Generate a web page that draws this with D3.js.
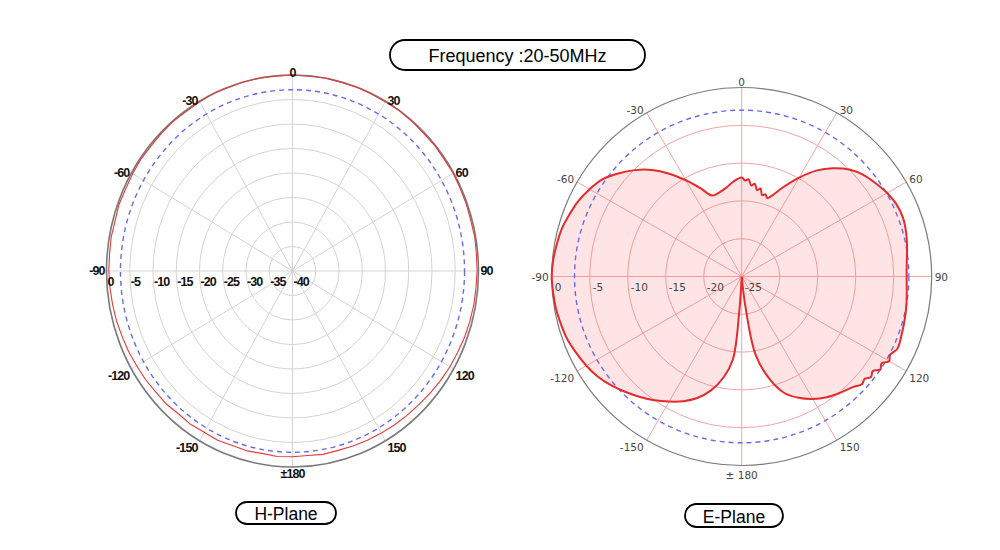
<!DOCTYPE html>
<html>
<head>
<meta charset="utf-8">
<script src="https://cdn.jsdelivr.net/npm/d3@7"></script>
<style>
  html, body { margin: 0; padding: 0; background: #fff; }
  svg { display: block; }
</style>
</head>
<body>
<svg id="chart" width="1000" height="550"></svg>
<script>
// ---------------- DATA ----------------
const titleText = "Frequency :20-50MHz";
const planeNames = ["H-Plane", "E-Plane"];

const angleTicks = [0, 30, 60, 90, 120, 150, 180, -150, -120, -90, -60, -30];
const angleTickLabels = ["0", "30", "60", "90", "120", "150", "\u00b1180", "-150", "-120", "-90", "-60", "-30"];
const eAngleTickLabels = ["0", "30", "60", "90", "120", "150", "\u00b1 180", "-150", "-120", "-90", "-60", "-30"];

const hRingTicks = [0, -5, -10, -15, -20, -25, -30, -35, -40];
const eRingTicks = [0, -5, -10, -15, -20, -25];

const hReference = -3;   // blue dashed circle (dB)
const eReference = -3;

const hAngles = [-180,-175,-170,-165,-160,-155,-150,-145,-140,-135,-130,-125,-120,-115,-110,-105,-100,-95,
  -90,-85,-80,-75,-70,-65,-60,-55,-50,-45,-40,-35,-30,-25,-20,-15,-10,-5,
  0,5,10,15,20,25,30,35,40,45,50,55,60,65,70,75,80,85,
  90,95,100,105,110,115,120,125,130,135,140,145,150,155,160,165,170,175];
const hGain = [-2.1,-2.0,-2.2,-2.0,-2.1,-1.9,-2.0,-1.8,-1.9,-1.6,-1.6,-1.4,-1.3,-1.1,-1.0,-0.8,-0.7,-0.6,
  -0.5,-0.5,-0.4,-0.5,-0.3,-0.4,-0.3,-0.2,-0.3,-0.2,-0.1,-0.2,-0.1,0,-0.1,0,0,-0.1,
  0,-0.1,0,-0.1,0,-0.1,-0.1,0,-0.1,-0.2,-0.1,-0.2,-0.1,-0.2,-0.2,-0.3,-0.2,-0.3,
  -0.3,-0.4,-0.4,-0.5,-0.6,-0.8,-0.9,-1.1,-1.3,-1.5,-1.6,-1.7,-1.8,-1.9,-2.0,-2.1,-2.0,-2.2];

const eAngles = [-180,-178,-176,-174,-170,-165,-160,-155,-150,-145,-140,-135,-130,-125,-120,-115,-110,-105,-100,-95,
  -90,-85,-80,-75,-70,-65,-60,-55,-50,-45,-40,-35,-30,-25,-20,-15,-10,-5,
  0,2,4,6,8,10,12,14,16,18,20,25,30,35,40,45,50,55,60,65,70,75,80,85,
  90,95,100,105,110,115,118,120,122,124,126,128,130,132,135,140,145,150,155,160,165,170,173,176];
const eGain = [-40,-30,-20,-14,-11.5,-9.4,-7.9,-6.8,-5.9,-5.0,-4.2,-3.4,-2.6,-1.9,-1.4,-1.0,-0.6,-0.4,-0.2,-0.1,
  0,-0.1,-0.3,-0.5,-0.9,-1.3,-1.9,-2.6,-3.8,-5.1,-6.6,-8.4,-10.3,-12.1,-13.6,-13.5,-13.1,-12.4,
  -11.9,-12.3,-12.1,-12.9,-12.6,-13.4,-13.1,-13.9,-13.7,-14.1,-13.7,-11.9,-9.9,-7.9,-6.3,-5.0,-4.1,-3.5,-2.9,-2.5,-2.4,-2.6,-2.9,-3.2,
  -3.3,-3.2,-3.0,-2.8,-2.6,-2.4,-2.9,-2.6,-3.3,-3.0,-3.7,-3.4,-3.9,-3.7,-4.3,-4.9,-5.5,-6.3,-7.3,-8.6,-11.0,-14.5,-21,-30];

// ---------------- DRAW ----------------
const svg = d3.select("#chart");
const rad = d => d * Math.PI / 180;

function makePlane(cfg) {
  const g = svg.append("g");
  const r = d3.scaleLinear().domain([cfg.min, 0]).range([0, 1]).clamp(true);
  const px = (a, n) => cfg.cx + n * cfg.rx * Math.sin(rad(a));
  const py = (a, n) => cfg.cy - n * cfg.ry * Math.cos(rad(a));

  // spokes
  g.selectAll(".spoke").data(d3.range(0, 360, 30)).join("line")
    .attr("x1", cfg.cx).attr("y1", cfg.cy)
    .attr("x2", a => px(a, 1)).attr("y2", a => py(a, 1))
    .attr("stroke", cfg.gridColor).attr("stroke-width", 1);

  // rings
  g.selectAll(".ring").data(cfg.rings.filter(v => v !== 0 && v !== cfg.min)).join("ellipse")
    .attr("cx", cfg.cx).attr("cy", cfg.cy)
    .attr("rx", v => r(v) * cfg.rx).attr("ry", v => r(v) * cfg.ry)
    .attr("fill", "none").attr("stroke", cfg.gridColor).attr("stroke-width", 1);

  // outer circle
  g.append("ellipse").attr("cx", cfg.cx).attr("cy", cfg.cy)
    .attr("rx", cfg.rx).attr("ry", cfg.ry)
    .attr("fill", "none").attr("stroke", "#7a7a7a").attr("stroke-width", cfg.outerWidth);

  // data
  const pts = cfg.angles.map((a, i) => [a, cfg.gain[i]]);
  const line = d3.line()
    .x(d => px(d[0], r(d[1])))
    .y(d => py(d[0], r(d[1])))
    .curve(cfg.curve);

  if (cfg.fill) {
    g.append("path").attr("d", line(pts))
      .attr("fill", cfg.fill).attr("stroke", "none");
  }

  // reference dashed
  g.append("ellipse").attr("cx", cfg.cx).attr("cy", cfg.cy)
    .attr("rx", r(cfg.ref) * cfg.rx).attr("ry", r(cfg.ref) * cfg.ry)
    .attr("fill", "none").attr("stroke", "#6a6af0").attr("stroke-width", 1.4)
    .attr("stroke-dasharray", "5,4");

  g.append("path").attr("d", line(pts))
    .attr("fill", "none").attr("stroke", cfg.lineColor)
    .attr("stroke-width", cfg.lineWidth).attr("stroke-linejoin", "round");

  // angle labels
  angleTicks.forEach((a, i) => {
    const s = Math.sin(rad(a)), c = Math.cos(rad(a));
    let x = px(a, 1), y = py(a, 1), anchor = "middle";
    if (Math.abs(s) > 0.01) {
      anchor = s > 0 ? "start" : "end";
      x += (s > 0 ? 1 : -1) * cfg.gap;
      y += c > 0.01 ? cfg.upperDy : (c < -0.01 ? cfg.lowerDy : 0);
    } else {
      y += c > 0 ? cfg.topDy : cfg.bottomDy;
    }
    g.append("text").attr("x", x).attr("y", y)
      .attr("text-anchor", anchor).attr("dominant-baseline", "central")
      .attr("font-family", cfg.fontFamily).attr("font-size", cfg.fontSize)
      .attr("font-weight", cfg.fontWeight).attr("letter-spacing", cfg.letterSpacing)
      .attr("fill", cfg.textColor).text(cfg.tickLabels[i]);
  });

  // ring labels
  cfg.rings.forEach(v => {
    g.append("text").attr("x", cfg.cx - r(v) * cfg.rx + cfg.ringDx).attr("y", cfg.cy + cfg.ringDy)
      .attr("text-anchor", "start").attr("dominant-baseline", "central")
      .attr("font-family", cfg.fontFamily).attr("font-size", cfg.fontSize)
      .attr("font-weight", cfg.fontWeight).attr("letter-spacing", cfg.letterSpacing)
      .attr("fill", cfg.textColor).text(v);
  });
}

makePlane({
  cx: 292.5, cy: 271, rx: 186, ry: 196, min: -40,
  rings: hRingTicks, ref: hReference, angles: hAngles, gain: hGain,
  gridColor: "#d4d4d4", outerWidth: 1.6, fill: null,
  lineColor: "#e43a3a", lineWidth: 1.1, curve: d3.curveLinearClosed,
  tickLabels: angleTickLabels,
  fontFamily: "Liberation Sans, Arial, sans-serif", fontSize: 12.5, fontWeight: "bold",
  letterSpacing: -0.9, textColor: "#111",
  gap: 2, upperDy: 0, lowerDy: 7, topDy: -2, bottomDy: 7,
  ringDx: 1, ringDy: 11
});

makePlane({
  cx: 741.7, cy: 276.5, rx: 190, ry: 189, min: -25,
  rings: eRingTicks, ref: eReference, angles: eAngles, gain: eGain,
  gridColor: "#f3a5a5", outerWidth: 1.2, fill: "rgba(250,120,120,0.2)",
  lineColor: "#e52b2b", lineWidth: 2, curve: d3.curveCatmullRomClosed.alpha(0.5),
  tickLabels: eAngleTickLabels,
  fontFamily: "DejaVu Sans, sans-serif", fontSize: 10.5, fontWeight: "normal",
  letterSpacing: 0, textColor: "#444",
  gap: 3, upperDy: -3, lowerDy: 7, topDy: -6, bottomDy: 9,
  ringDx: 3, ringDy: 10
});

// title & plane name boxes
function pill(x, y, w, h, text, size) {
  svg.append("rect").attr("x", x).attr("y", y).attr("width", w).attr("height", h)
    .attr("rx", h / 2).attr("ry", h / 2)
    .attr("fill", "#fff").attr("stroke", "#000").attr("stroke-width", 1.8);
  svg.append("text").attr("x", x + w / 2).attr("y", y + h / 2 + 1)
    .attr("text-anchor", "middle").attr("dominant-baseline", "central")
    .attr("font-family", "Liberation Sans, Arial, sans-serif").attr("font-size", size)
    .attr("fill", "#000").text(text);
}
pill(390, 40, 255, 30, titleText, 18);
pill(236, 502, 100, 22, planeNames[0], 17.5);
pill(685, 504, 98, 23, planeNames[1], 17.5);
</script>
</body>
</html>
